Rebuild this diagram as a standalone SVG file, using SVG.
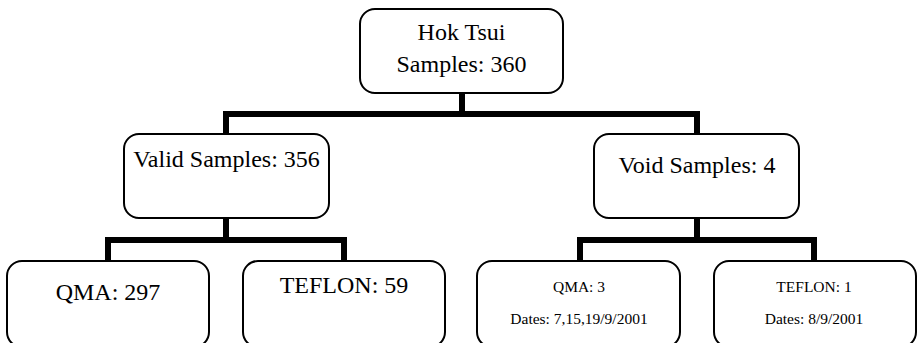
<svg xmlns="http://www.w3.org/2000/svg" width="918" height="343" viewBox="0 0 918 343">
<style>
.box{fill:#fff;stroke:#000;stroke-width:2}
.t{font-family:"Liberation Serif","Times New Roman",serif;fill:#000;text-anchor:middle}
.big{font-size:24px}
.small{font-size:15.5px}
.conn{fill:none;stroke:#000;stroke-width:6;stroke-linejoin:miter;stroke-linecap:butt}
</style>
<rect width="918" height="343" fill="#fff"/>
<g id="connectors">
<path class="conn" d="M462,93 V114 M226,134 V114 H697 V134"/>
<path class="conn" d="M226,218 V240 M108,261 V240 H344 V261"/>
<path class="conn" d="M697,218 V240 M580,261 V240 H814 V261"/>
</g>
<g id="root">
<rect class="box" x="360" y="9" width="203" height="84" rx="15"/>
<text class="t big" x="461.5" y="40">Hok Tsui</text>
<text class="t big" x="461.5" y="72">Samples: 360</text>
</g>
<g id="valid">
<rect class="box" x="124" y="134" width="205" height="84" rx="15"/>
<text class="t big" x="226.5" y="167">Valid Samples: 356</text>
</g>
<g id="void">
<rect class="box" x="594" y="134" width="205" height="84" rx="15"/>
<text class="t big" x="697" y="173">Void Samples: 4</text>
</g>
<g id="qma-valid">
<rect class="box" x="7" y="261" width="202" height="86" rx="15"/>
<text class="t big" x="108" y="300">QMA: 297</text>
</g>
<g id="teflon-valid">
<rect class="box" x="243" y="261" width="202" height="86" rx="15"/>
<text class="t big" x="344" y="293">TEFLON: 59</text>
</g>
<g id="qma-void">
<rect class="box" x="477" y="261" width="203" height="86" rx="15"/>
<text class="t small" x="579" y="292">QMA: 3</text>
<text class="t small" x="579" y="324">Dates: 7,15,19/9/2001</text>
</g>
<g id="teflon-void">
<rect class="box" x="714" y="261" width="202" height="86" rx="15"/>
<text class="t small" x="814" y="292">TEFLON: 1</text>
<text class="t small" x="814" y="324">Dates: 8/9/2001</text>
</g>
</svg>
